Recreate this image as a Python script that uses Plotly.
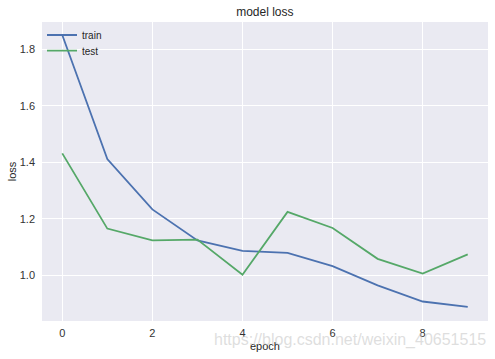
import plotly.graph_objects as go

epochs = list(range(10))
train_loss = [1.851, 1.412, 1.234, 1.124, 1.087, 1.080, 1.033, 0.965, 0.908, 0.889]
test_loss = [1.432, 1.166, 1.124, 1.127, 1.003, 1.225, 1.168, 1.059, 1.007, 1.075]
x_ticks = [0, 2, 4, 6, 8]
y_ticks = [1.0, 1.2, 1.4, 1.6, 1.8]

fig = go.Figure()
fig.add_trace(go.Scatter(x=epochs, y=train_loss, mode="lines", name="train",
                         line=dict(color="#4C72B0", width=1.8), legend="legend"))
fig.add_trace(go.Scatter(x=epochs, y=test_loss, mode="lines", name="test",
                         line=dict(color="#55A868", width=1.8), legend="legend2"))

font = "Liberation Sans, Arial, sans-serif"
leg_common = dict(x=0.0, xanchor="left", yanchor="middle", bgcolor="rgba(0,0,0,0)",
                  font=dict(size=10, color="#262626"), itemwidth=30)
fig.update_layout(
    width=495, height=359,
    margin=dict(l=42, r=7, t=22, b=38, autoexpand=False),
    paper_bgcolor="white", plot_bgcolor="#EAEAF2",
    font=dict(family=font, size=11, color="#333333"),
    title=dict(text="model loss", x=0.535, xanchor="center", y=0.966, yanchor="middle",
               font=dict(size=12, color="#262626")),
    showlegend=True,
    legend=dict(y=0.9565, **leg_common),
    legend2=dict(y=0.904, **leg_common),
    xaxis=dict(range=[-0.45, 9.45], tickvals=x_ticks, ticktext=[str(v) for v in x_ticks],
               showgrid=True, gridcolor="white", gridwidth=1.2, zeroline=False,
               showline=False, ticks="", ticklen=0, automargin=False,
               ticklabelstandoff=4,
               title=dict(text="epoch", standoff=4, font=dict(size=11, color="#262626"))),
    yaxis=dict(range=[0.839, 1.897], tickvals=y_ticks, ticktext=[f"{v:.1f}" for v in y_ticks],
               showgrid=True, gridcolor="white", gridwidth=1.2, zeroline=False,
               showline=False, ticks="", ticklen=0, automargin=False,
               ticklabelstandoff=6,
               title=dict(text="loss", standoff=0, font=dict(size=11, color="#262626"))),
)
fig.add_annotation(text="https://blog.csdn.net/weixin_40651515", xref="paper", yref="paper",
                   x=1.0, y=-0.065, xanchor="right", yanchor="middle", showarrow=False,
                   font=dict(size=16, color="rgba(200,200,200,0.6)", family=font))
fig.write_html("out.html", config={"displayModeBar": False},
               post_script="document.body.style.margin='0';document.body.style.padding='0';")
